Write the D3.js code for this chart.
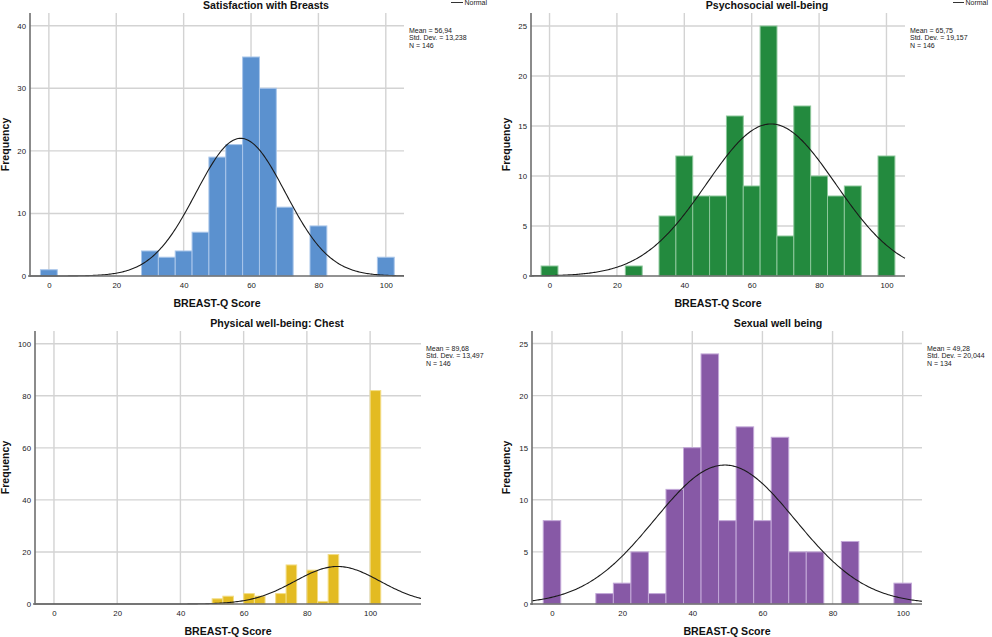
<!DOCTYPE html>
<html>
<head>
<meta charset="utf-8">
<script src="https://cdn.jsdelivr.net/npm/d3@7"></script>
<style>
  html, body { margin: 0; padding: 0; background: #fff; }
  svg { display: block; font-family: "Liberation Sans", Arial, sans-serif; }
</style>
</head>
<body>
<svg id="chart" width="992" height="637"></svg>
<script>
// ---------- DATA ----------
const titles = ["Satisfaction with Breasts", "Psychosocial well-being", "Physical well-being: Chest", "Sexual well being"];

const binCenters1 = [0, 30, 35, 40, 45, 50, 55, 60, 65, 70, 80, 100];
const counts1     = [1, 4, 3, 4, 7, 19, 21, 35, 30, 11, 8, 3];

const binCenters2 = [0, 25, 35, 40, 45, 50, 55, 60, 65, 70, 75, 80, 85, 90, 100];
const counts2     = [1, 1, 6, 12, 8, 8, 16, 9, 25, 4, 17, 10, 8, 9, 12];

const binCenters3 = [51.7, 55.1, 61.7, 65.1, 71.8, 75.1, 81.7, 85.1, 88.4, 101.7];
const counts3     = [2, 3, 4, 3, 4, 15, 13, 1, 19, 82];

const binCenters4 = [0, 15, 20, 25, 30, 35, 40, 45, 50, 55, 60, 65, 70, 75, 85, 100];
const counts4     = [8, 1, 2, 5, 1, 11, 15, 24, 8, 17, 8, 16, 5, 5, 6, 2];

const binWidths = [5, 5, 3.34, 5];
const means  = [56.94, 65.75, 89.68, 49.28];
const sds    = [13.238, 19.157, 13.497, 20.044];
const ns     = [146, 146, 146, 134];
const meanLabels = ["56,94", "65,75", "89,68", "49,28"];
const sdLabels   = ["13,238", "19,157", "13,497", "20,044"];

const xTickValues = [0, 20, 40, 60, 80, 100];
const yTicks1 = [0, 10, 20, 30, 40];
const yTicks2 = [0, 5, 10, 15, 20, 25];
const yTicks3 = [0, 20, 40, 60, 80, 100];
const yTicks4 = [0, 5, 10, 15, 20, 25];

const colors  = ["#5b91cf", "#238a3e", "#e3bb22", "#8759a6"];
const edges   = ["#a9c6ea", "#8cc79a", "#f3dd85", "#c3a8d8"];

const xLabel = "BREAST-Q Score";
const yLabel = "Frequency";
const legendLabel = "Normal";

// ---------- LAYOUT ----------
const layouts = [
  { l: 30,  r: 404, t: 13,  b: 276, xd: [-5.6, 105.4], yMax: 42.03, titleX: 266, titleY: 8.5,  statsX: 409, yLabX: 5,   legend: [451, 463] },
  { l: 531, r: 905, t: 13,  b: 276, xd: [-5.5, 105.5], yMax: 26.3,  titleX: 767, titleY: 8.5,  statsX: 910, yLabX: 506, legend: [953, 964] },
  { l: 35,  r: 421, t: 331, b: 604, xd: [-6.0, 116.1], yMax: 104.9, titleX: 277, titleY: 326.5, statsX: 426, yLabX: 5.5, legend: null },
  { l: 532, r: 922, t: 331, b: 604, xd: [-5.7, 105.5], yMax: 26.2,  titleX: 778, titleY: 326.5, statsX: 927, yLabX: 506, legend: null }
];

const panels = [
  { centers: binCenters1, counts: counts1, yTicks: yTicks1 },
  { centers: binCenters2, counts: counts2, yTicks: yTicks2 },
  { centers: binCenters3, counts: counts3, yTicks: yTicks3 },
  { centers: binCenters4, counts: counts4, yTicks: yTicks4 }
];

const svg = d3.select("#chart");

function normalPdf(x, m, s) {
  return Math.exp(-0.5 * ((x - m) / s) ** 2) / (s * Math.sqrt(2 * Math.PI));
}

panels.forEach((p, i) => {
  const L = layouts[i];
  const g = svg.append("g");
  const x = d3.scaleLinear().domain(L.xd).range([L.l, L.r]);
  const y = d3.scaleLinear().domain([0, L.yMax]).range([L.b, L.t]);
  const bw = binWidths[i];

  // vertical gridlines
  g.selectAll(".vg").data(xTickValues).enter().append("line")
    .attr("x1", d => x(d)).attr("x2", d => x(d))
    .attr("y1", L.t).attr("y2", L.b)
    .attr("stroke", "#d3d3d3").attr("stroke-width", 1.4);

  // horizontal gridlines
  g.selectAll(".hg").data(p.yTicks.filter(d => d > 0)).enter().append("line")
    .attr("x1", L.l).attr("x2", L.r)
    .attr("y1", d => y(d)).attr("y2", d => y(d))
    .attr("stroke", "#d3d3d3").attr("stroke-width", 1.4);

  // bars
  const bins = p.centers.map((c, k) => ({ c, n: p.counts[k] }));
  g.selectAll(".bar").data(bins).enter().append("rect")
    .attr("x", d => x(d.c - bw / 2))
    .attr("width", d => x(d.c + bw / 2) - x(d.c - bw / 2))
    .attr("y", d => y(d.n))
    .attr("height", d => y(0) - y(d.n))
    .attr("fill", colors[i])
    .attr("stroke", edges[i]).attr("stroke-width", 1);

  // normal curve
  const [x0, x1] = L.xd;
  const pts = d3.range(0, 301).map(k => x0 + (x1 - x0) * k / 300);
  const line = d3.line()
    .x(d => x(d))
    .y(d => y(ns[i] * bw * normalPdf(d, means[i], sds[i])))
    .curve(d3.curveLinear);
  g.append("path").datum(pts).attr("d", line)
    .attr("fill", "none").attr("stroke", "#1a1a1a").attr("stroke-width", 1.1);

  // axes
  const xAxis = d3.axisBottom(x).tickValues(xTickValues).tickSize(0).tickPadding(6);
  const gx = g.append("g").attr("transform", `translate(0,${L.b})`).call(xAxis);
  gx.select(".domain").attr("stroke", "#6e6e6e").attr("stroke-width", 1.6)
    .attr("d", `M${L.l - 2},0H${L.r}`);
  gx.selectAll("text").attr("font-size", 7.8).attr("fill", "#222")
    .attr("font-family", "Liberation Sans, Arial, sans-serif");

  const yAxis = d3.axisLeft(y).tickValues(p.yTicks).tickSize(0).tickPadding(4);
  const gy = g.append("g").attr("transform", `translate(${L.l},0)`).call(yAxis);
  gy.select(".domain").attr("stroke", "#6e6e6e").attr("stroke-width", 1.6)
    .attr("d", `M0,${L.t}V${L.b + 1}`);
  gy.selectAll("text").attr("font-size", 7.8).attr("fill", "#222")
    .attr("font-family", "Liberation Sans, Arial, sans-serif");

  // title
  g.append("text").attr("x", L.titleX).attr("y", L.titleY)
    .attr("text-anchor", "middle").attr("font-weight", "bold").attr("font-size", 10.6)
    .attr("fill", "#111").text(titles[i]);

  // x label
  g.append("text").attr("x", (L.l + L.r) / 2).attr("y", L.b + 31)
    .attr("text-anchor", "middle").attr("font-weight", "bold").attr("font-size", 10.6)
    .attr("fill", "#111").text(xLabel);

  // y label
  g.append("text")
    .attr("transform", `translate(${L.yLabX + 3.8},${(L.t + L.b) / 2}) rotate(-90)`)
    .attr("text-anchor", "middle").attr("font-weight", "bold").attr("font-size", 10.6)
    .attr("fill", "#111").text(yLabel);

  // stats
  const stats = [`Mean = ${meanLabels[i]}`, `Std. Dev. = ${sdLabels[i]}`, `N = ${ns[i]}`];
  g.selectAll(".st").data(stats).enter().append("text")
    .attr("x", L.statsX).attr("y", (d, k) => L.t + 20 + k * 7.4)
    .attr("font-size", 7).attr("fill", "#222").text(d => d);

  // legend
  if (L.legend) {
    g.append("line").attr("x1", L.legend[0]).attr("x2", L.legend[1])
      .attr("y1", 2.5).attr("y2", 2.5).attr("stroke", "#333").attr("stroke-width", 1);
    g.append("text").attr("x", L.legend[1] + 1.5).attr("y", 5)
      .attr("font-size", 7).attr("fill", "#222").text(legendLabel);
  }
});
</script>
</body>
</html>
